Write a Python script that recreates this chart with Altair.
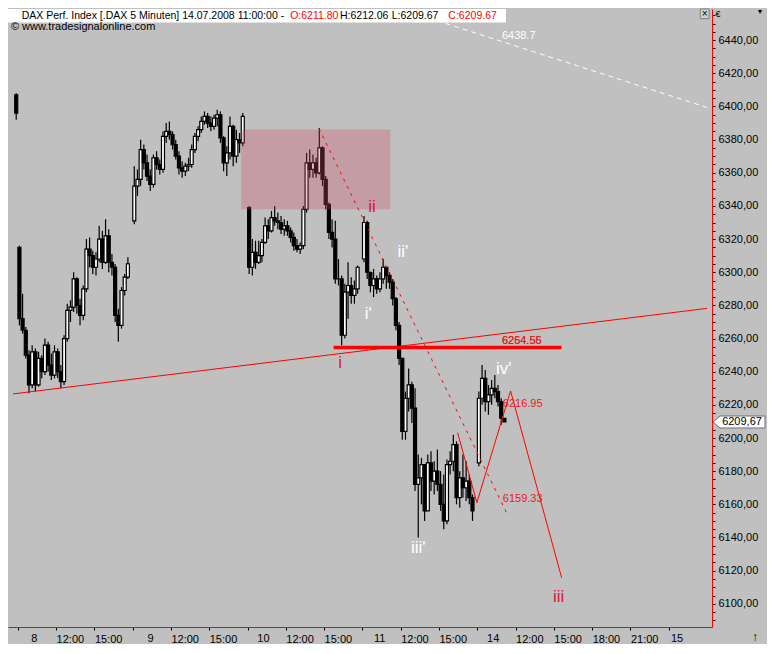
import altair as alt
import pandas as pd

# ---------------- data (15-minute candles) ----------------
d07_open  = [6407]
d07_high  = [6408]
d07_low   = [6392]
d07_close = [6396]

d08_open  = [6315, 6272, 6265, 6250, 6232, 6252, 6232, 6248, 6240, 6256, 6244, 6238, 6252, 6240, 6234, 6260, 6277, 6279,
             6296, 6280, 6274, 6290, 6314, 6310, 6303, 6308, 6320, 6306, 6322, 6306, 6303, 6274, 6268, 6289, 6297]
d08_high  = [6316, 6287, 6267, 6253, 6256, 6254, 6252, 6250, 6260, 6258, 6251, 6256, 6254, 6244, 6262, 6281, 6283, 6300,
             6297, 6284, 6292, 6320, 6321, 6313, 6312, 6328, 6325, 6332, 6326, 6311, 6305, 6278, 6291, 6299, 6309]
d08_low   = [6268, 6263, 6248, 6227, 6230, 6228, 6231, 6236, 6238, 6240, 6235, 6236, 6236, 6230, 6232, 6258, 6270, 6276,
             6275, 6268, 6271, 6288, 6303, 6299, 6298, 6306, 6302, 6305, 6300, 6298, 6270, 6258, 6266, 6286, 6296]
d08_close = [6272, 6265, 6250, 6232, 6252, 6232, 6248, 6240, 6256, 6244, 6238, 6252, 6240, 6234, 6260, 6277, 6279, 6296,
             6280, 6274, 6290, 6314, 6310, 6303, 6308, 6320, 6306, 6322, 6306, 6303, 6274, 6268, 6289, 6297, 6305]

d09_open  = [6331, 6352, 6356, 6374, 6366, 6358, 6353, 6369, 6365, 6362, 6382, 6385, 6383, 6377, 6370, 6363, 6361, 6364,
             6365, 6374, 6382, 6386, 6391, 6394, 6390, 6388, 6393, 6395, 6381, 6366, 6372, 6388, 6370, 6380, 6378]
d09_high  = [6364, 6362, 6380, 6377, 6371, 6362, 6371, 6373, 6368, 6385, 6390, 6391, 6385, 6380, 6373, 6367, 6366, 6369,
             6377, 6384, 6388, 6394, 6397, 6396, 6394, 6395, 6398, 6397, 6382, 6376, 6394, 6389, 6386, 6384, 6396]
d09_low   = [6329, 6346, 6352, 6362, 6355, 6349, 6351, 6362, 6359, 6360, 6378, 6380, 6374, 6368, 6359, 6357, 6358, 6361,
             6363, 6372, 6379, 6384, 6389, 6387, 6385, 6386, 6388, 6378, 6361, 6358, 6368, 6364, 6366, 6372, 6376]
d09_close = [6352, 6356, 6374, 6366, 6358, 6353, 6369, 6365, 6362, 6382, 6385, 6383, 6377, 6370, 6363, 6361, 6364, 6365,
             6374, 6382, 6386, 6391, 6394, 6390, 6388, 6393, 6395, 6381, 6366, 6372, 6388, 6370, 6380, 6378, 6394]

d10_open  = [6339, 6303, 6312, 6306, 6310, 6318, 6328, 6325, 6333, 6331, 6330, 6326, 6328, 6325, 6321, 6316, 6314, 6316,
             6338, 6366, 6362, 6366, 6360, 6375, 6356, 6341, 6324, 6320, 6296, 6296, 6262, 6288, 6292, 6286, 6290]
d10_high  = [6340, 6320, 6319, 6319, 6320, 6333, 6332, 6337, 6340, 6336, 6334, 6332, 6331, 6327, 6324, 6320, 6318, 6340,
             6372, 6374, 6371, 6369, 6387, 6376, 6358, 6342, 6332, 6331, 6308, 6298, 6293, 6306, 6297, 6295, 6304]
d10_low   = [6299, 6298, 6302, 6305, 6306, 6317, 6320, 6324, 6328, 6326, 6323, 6322, 6322, 6318, 6313, 6312, 6311, 6314,
             6336, 6357, 6357, 6357, 6359, 6352, 6338, 6320, 6315, 6293, 6292, 6256, 6260, 6272, 6281, 6281, 6287]
d10_close = [6303, 6312, 6306, 6310, 6318, 6328, 6325, 6333, 6331, 6330, 6326, 6328, 6325, 6321, 6316, 6314, 6316, 6338,
             6366, 6362, 6366, 6360, 6375, 6356, 6341, 6324, 6320, 6296, 6296, 6262, 6288, 6292, 6286, 6290, 6303]

d11_open  = [6308, 6330, 6300, 6292, 6296, 6290, 6296, 6303, 6298, 6294, 6284, 6268, 6248, 6204, 6224, 6232, 6218, 6172,
             6176, 6184, 6156, 6185, 6174, 6180, 6172, 6160, 6150, 6184, 6186, 6196, 6164, 6176, 6170, 6174, 6164]
d11_high  = [6334, 6331, 6300, 6302, 6298, 6300, 6308, 6303, 6300, 6296, 6285, 6270, 6248, 6228, 6242, 6234, 6230, 6190,
             6188, 6184, 6190, 6192, 6186, 6193, 6180, 6178, 6187, 6192, 6202, 6198, 6180, 6190, 6186, 6178, 6166]
d11_low   = [6306, 6296, 6288, 6285, 6287, 6288, 6293, 6290, 6290, 6280, 6265, 6244, 6199, 6199, 6216, 6209, 6168, 6140,
             6160, 6150, 6156, 6168, 6166, 6168, 6156, 6145, 6148, 6178, 6180, 6160, 6158, 6164, 6162, 6160, 6150]
d11_close = [6330, 6300, 6292, 6296, 6290, 6296, 6303, 6298, 6294, 6284, 6268, 6248, 6204, 6224, 6232, 6218, 6172, 6176,
             6184, 6156, 6185, 6174, 6180, 6172, 6160, 6150, 6184, 6186, 6196, 6164, 6176, 6170, 6174, 6164, 6156]

d14_open  = [6185, 6224, 6236, 6222, 6226, 6230, 6228, 6222, 6211.80]
d14_high  = [6228, 6244, 6241, 6232, 6235, 6238, 6232, 6224, 6212.06]
d14_low   = [6183, 6220, 6216, 6214, 6220, 6224, 6219, 6208, 6209.67]
d14_close = [6224, 6236, 6222, 6226, 6230, 6228, 6222, 6212, 6209.67]

# session time axis: hours since 8 Jul 09:00, trading days packed 9 h apart
day_offsets = [-9, 0, 9, 18, 27, 36]
day_first_slot = [35, 0, 0, 0, 0, 0]

x_ticks = [0, 3, 6, 9, 12, 15, 18, 21, 24, 27, 30, 33, 36, 39, 42, 45, 48, 51]
x_tick_labels = ["", "12:00", "15:00", "", "12:00", "15:00", "", "12:00", "15:00", "", "12:00", "15:00",
                 "", "12:00", "15:00", "18:00", "21:00", ""]
day_label_text = ["8", "9", "10", "11", "14", "15"]
day_label_t = [1.3, 10.4, 19.25, 28.35, 37.25, 51.65]

# drawing objects (trend lines etc.)
support_t, support_p = [-0.377, 54.0], [6226.6, 6278.2]
level_t, level_p = [24.74, 42.6], [6254.56, 6254.56]
chan_t, chan_p = [23.6, 38.39], [6386.7, 6153.4]
zig_t, zig_p = [34.46, 35.97, 38.61, 42.61], [6203.2, 6161.0, 6228.4, 6115.8]
upper_t, upper_p = [31.5, 54.0], [6455.1, 6399.4]
zone_t, zone_p = [17.5, 29.19], [6338.0, 6386.1]

lbl_text = ["6438.7", "6254.56", "6264.55", "6216.95", "6159.33"]
lbl_t = [37.93, 37.93, 37.93, 38.0, 38.0]
lbl_p = [6442.3, 6258.7, 6258.7, 6220.8, 6163.3]
lbl_col = ["#ffffff", "#e81c1c", "#e81c1c", "#e81c1c", "#e81c1c"]

wave_text = ["i", "ii", "iii", "i'", "ii'", "iii'", "iv'"]
wave_t = [25.26, 27.75, 42.38, 27.45, 30.17, 31.37, 38.08]
wave_p = [6245.4, 6339.2, 6104.0, 6274.7, 6312.2, 6133.4, 6241.9]
wave_col = ["#dc143c", "#dc143c", "#dc143c", "#ffffff", "#ffffff", "#ffffff", "#ffffff"]

last_price = [6209.67]
y_ticks = list(range(6090, 6460, 5))

# ---------------- build tables ----------------
days = [
    (d07_open, d07_high, d07_low, d07_close),
    (d08_open, d08_high, d08_low, d08_close),
    (d09_open, d09_high, d09_low, d09_close),
    (d10_open, d10_high, d10_low, d10_close),
    (d11_open, d11_high, d11_low, d11_close),
    (d14_open, d14_high, d14_low, d14_close),
]
rows = []
for (o, h, l, c), off, first in zip(days, day_offsets, day_first_slot):
    for k in range(len(o)):
        rows.append({"t": off + (first + k) * 0.25 + 0.125, "o": o[k], "h": h[k], "l": l[k], "c": c[k],
                     "dir": "up" if c[k] > o[k] else "down"})
candles = pd.DataFrame(rows)

W, H = 704, 618
sx, sy = W / 721.0, H / 636.0
RED = "#ff0000"
FONT = "Liberation Sans"

label_expr = "''"
for v, lab in reversed(list(zip(x_ticks, x_tick_labels))):
    label_expr = f"datum.value == {v} ? '{lab}' : ({label_expr})"

xs = alt.Scale(domain=[-0.377, 54.0], nice=False, zero=False)
ys = alt.Scale(domain=[6086.0, 6458.8], nice=False, zero=False)
xaxis = alt.Axis(values=x_ticks, labelExpr=label_expr, orient="bottom", domainColor=RED, domainWidth=1,
                 tickColor="black", tickSize=3, labelFont=FONT, labelFontSize=11, labelColor="black",
                 labelAlign="left", labelPadding=3, labelOverlap=False, labelFlush=False, grid=False, title=None)
yaxis = alt.Axis(values=y_ticks, orient="right", domainColor=RED, domainWidth=1, tickColor="black", tickSize=3,
                 labelExpr="datum.value % 20 == 0 ? replace(format(datum.value, '.2f'), '.', ',') : ''",
                 labelFont=FONT, labelFontSize=11, labelColor="black", labelPadding=3, labelOverlap=False,
                 labelFlush=False, grid=False, title=None)


def X(f):
    return alt.X(f, type="quantitative", scale=xs, axis=xaxis)


def Y(f):
    return alt.Y(f, type="quantitative", scale=ys, axis=yaxis)


layers = []
# wicks and bodies
layers.append(alt.Chart(candles).mark_rule(color="black", strokeWidth=1.2).encode(x=X("t"), y=Y("l"), y2="h"))
layers.append(alt.Chart(candles).mark_bar(size=3.0, stroke="black", strokeWidth=1.2, orient="vertical").encode(
    x=X("t"), y=Y("o"), y2="c",
    color=alt.Color("dir:N", scale=alt.Scale(domain=["up", "down"], range=["#ffffff", "#000000"]), legend=None)))

# resistance zone
zone = pd.DataFrame({"t1": [zone_t[0]], "t2": [zone_t[1]], "p1": [zone_p[0]], "p2": [zone_p[1]]})
layers.append(alt.Chart(zone).mark_rect(color="#cd4863", opacity=0.3).encode(x=X("t1"), x2="t2", y=Y("p1"), y2="p2"))

# lines
def line_df(ts, ps):
    return pd.DataFrame({"t": ts, "p": ps, "i": list(range(len(ts)))})

layers.append(alt.Chart(line_df(support_t, support_p)).mark_line(color=RED, strokeWidth=1, clip=True).encode(
    x=X("t"), y=Y("p"), order="i:Q"))
layers.append(alt.Chart(line_df(level_t, level_p)).mark_line(color=RED, strokeWidth=3.5).encode(
    x=X("t"), y=Y("p"), order="i:Q"))
layers.append(alt.Chart(line_df(chan_t, chan_p)).mark_line(color=RED, strokeWidth=1, strokeDash=[3, 5]).encode(
    x=X("t"), y=Y("p"), order="i:Q"))
layers.append(alt.Chart(line_df(zig_t, zig_p)).mark_line(color=RED, strokeWidth=1).encode(
    x=X("t"), y=Y("p"), order="i:Q"))
layers.append(alt.Chart(line_df(upper_t, upper_p)).mark_line(color="#ffffff", strokeWidth=1, strokeDash=[5, 4],
                                                             clip=True).encode(x=X("t"), y=Y("p"), order="i:Q"))

# line value labels
lbl = pd.DataFrame({"t": lbl_t, "p": lbl_p, "txt": lbl_text, "col": lbl_col})
layers.append(alt.Chart(lbl).mark_text(align="left", baseline="middle", font=FONT, fontSize=11).encode(
    x=X("t"), y=Y("p"), text="txt:N", color=alt.Color("col:N", scale=None)))

# wave labels
wv = pd.DataFrame({"t": wave_t, "p": wave_p, "txt": wave_text, "col": wave_col})
layers.append(alt.Chart(wv).mark_text(align="center", baseline="middle", font=FONT, fontSize=17).encode(
    x=X("t"), y=Y("p"), text="txt:N", color=alt.Color("col:N", scale=None)))

one = pd.DataFrame({"a": [0]})
# header strip
layers.append(alt.Chart(one).mark_rect(color="#ffffff").encode(
    x=alt.value(0), x2=alt.value(510 * sx), y=alt.value(0), y2=alt.value(14 * sy)))
header = [
    ("DAX Perf. Index [.DAX  5 Minuten] 14.07.2008 11:00:00 -", 14, "#000000"),
    ("O:6211.80", 289, "#ff0000"),
    ("H:6212.06", 340, "#000000"),
    ("L:6209.67", 393, "#000000"),
    ("C:6209.67", 451, "#ff0000"),
]
for txt, px, col in header:
    layers.append(alt.Chart(one).mark_text(text=txt, align="left", baseline="middle", font=FONT, fontSize=10.5,
                                           color=col).encode(x=alt.value(px * sx), y=alt.value(7 * sy)))
layers.append(alt.Chart(one).mark_text(text="© www.tradesignalonline.com", align="left", baseline="middle",
                                       font=FONT, fontSize=11, color="#000000").encode(
    x=alt.value(3 * sx), y=alt.value(19 * sy)))

# window decorations at top right
layers.append(alt.Chart(one).mark_rect(color="#d4d0c8", stroke="#808080", strokeWidth=1).encode(
    x=alt.value(709 * sx), x2=alt.value(718 * sx), y=alt.value(0), y2=alt.value(10 * sy)))
layers.append(alt.Chart(one).mark_text(text="×", align="center", baseline="middle", font=FONT, fontSize=10,
                                       color="#000000").encode(x=alt.value(713.5 * sx), y=alt.value(5 * sy)))
layers.append(alt.Chart(one).mark_text(text="€", align="center", baseline="middle", font=FONT, fontSize=9,
                                       color="#000000").encode(x=alt.value(W + 6), y=alt.value(5)))
layers.append(alt.Chart(one).mark_text(text="▼", align="center", baseline="middle", font=FONT, fontSize=7,
                                       color="#000000").encode(x=alt.value(W + 48), y=alt.value(3)))
layers.append(alt.Chart(one).mark_text(text="↑", align="center", baseline="middle", font=FONT, fontSize=12,
                                       color="#000000").encode(x=alt.value(W + 43), y=alt.value(H + 10)))

# last price marker on the axis
lp = pd.DataFrame({"p": last_price, "txt": ["6209,67"]})
box_path = "M -1 0 L -0.73 -0.23 L 1 -0.23 L 1 0.23 L -0.73 0.23 Z"
layers.append(alt.Chart(lp).mark_point(shape=box_path, size=2704, filled=True, fill="#ffffff", stroke="#707070",
                                       strokeWidth=1, opacity=1).encode(x=alt.value(W + 27), y=Y("p")))
layers.append(alt.Chart(lp).mark_text(align="center", baseline="middle", font=FONT, fontSize=11,
                                      color="#000000").encode(x=alt.value(W + 30), y=Y("p"), text="txt:N"))

# day labels under the axis
dl = pd.DataFrame({"t": day_label_t, "txt": day_label_text})
layers.append(alt.Chart(dl).mark_text(align="center", baseline="top", font=FONT, fontSize=11,
                                      color="#000000").encode(x=X("t"), y=alt.value(H + 6), text="txt:N"))

chart = alt.layer(*layers).properties(width=W, height=H).configure(
    background="#c0c0c0", padding=0).configure_view(strokeWidth=0)

chart.save("out.html", embed_options={"renderer": "svg", "actions": False})
